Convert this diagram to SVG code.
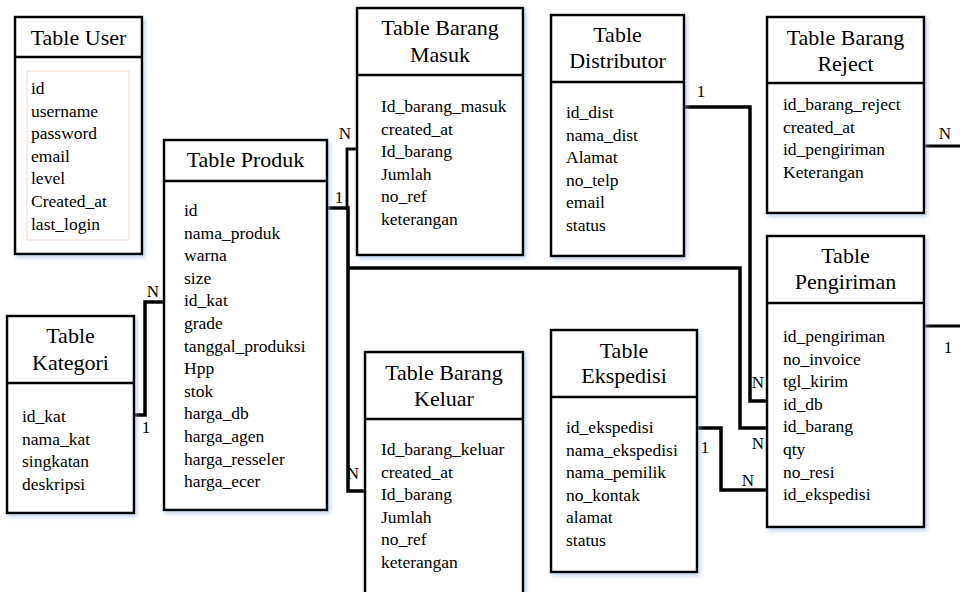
<svg xmlns="http://www.w3.org/2000/svg" width="960" height="592" viewBox="0 0 960 592">
  <style>
    .box { fill: #ffffff; stroke: #000000; stroke-width: 2.5; filter: url(#shade); }
    .div { stroke: #000000; stroke-width: 2.5; }
    .title { font-family: "Liberation Serif", "Times New Roman", serif; font-size: 22px; fill: #000000; text-anchor: middle; }
    .field { font-family: "Liberation Serif", "Times New Roman", serif; font-size: 17.5px; fill: #000000; }
    .card { font-family: "Liberation Serif", "Times New Roman", serif; font-size: 17px; fill: #000000; text-anchor: middle; }
    .link { fill: none; stroke: #000000; stroke-width: 3.5; stroke-linejoin: miter; }
    .thin { stroke-width: 2.8; }
  </style>
  <defs>
    <filter id="shade" x="-10%" y="-10%" width="125%" height="125%">
      <feDropShadow dx="2" dy="2.5" stdDeviation="2" flood-color="#8fb0d8" flood-opacity="0.55"/>
    </filter>
  </defs>
  <rect width="960" height="592" fill="#ffffff"/>

  <!-- relationship lines -->
  <g id="connectors">
    <!-- Kategori 1 : N Produk -->
    <path class="link" d="M134,415 H145 V302 H164"/>
    <!-- Produk 1 : N Barang Masuk -->
    <path class="link thin" d="M347,208 V149 H357"/>
    <!-- Produk 1 : N Barang Keluar -->
    <path class="link" d="M327,208 H348 V491 H365"/>
    <!-- Produk 1 : N Pengiriman (id_barang) -->
    <path class="link" d="M348,268 H740 V428 H767"/>
    <!-- Distributor 1 : N Pengiriman (id_db) -->
    <path class="link" d="M684,107 H750 V401 H767"/>
    <!-- Ekspedisi 1 : N Pengiriman (id_ekspedisi) -->
    <path class="link" d="M697,428 H721 V490 H767"/>
    <!-- Barang Reject N -->
    <path class="link thin" d="M924,146 H962"/>
    <!-- Pengiriman 1 -->
    <path class="link thin" d="M924,326 H962"/>

    <text class="card" x="153" y="297">N</text>
    <text class="card" x="146" y="433">1</text>
    <text class="card" x="345" y="139">N</text>
    <text class="card" x="339" y="203">1</text>
    <text class="card" x="353" y="479">N</text>
    <text class="card" x="701" y="97">1</text>
    <text class="card" x="758" y="388">N</text>
    <text class="card" x="758" y="449">N</text>
    <text class="card" x="705" y="453">1</text>
    <text class="card" x="748" y="486">N</text>
    <text class="card" x="945" y="139">N</text>
    <text class="card" x="948" y="353">1</text>
  </g>

  <g id="table-user">
    <rect class="box" x="15" y="17" width="127" height="237"/>
    <line class="div" x1="15" y1="57" x2="142" y2="57"/>
    <rect x="27" y="71" width="102" height="169" fill="none" stroke="#f6d9c8" stroke-width="1"/>
    <text class="title" x="78.5" y="45">Table User</text>
    <text class="field" x="31" y="94">id</text>
    <text class="field" x="31" y="116.6">username</text>
    <text class="field" x="31" y="139.2">password</text>
    <text class="field" x="31" y="161.8">email</text>
    <text class="field" x="31" y="184.4">level</text>
    <text class="field" x="31" y="207">Created_at</text>
    <text class="field" x="31" y="229.6">last_login</text>
  </g>

  <g id="table-produk">
    <rect class="box" x="164" y="140" width="163" height="370"/>
    <line class="div" x1="164" y1="181" x2="327" y2="181"/>
    <text class="title" x="245.5" y="167">Table Produk</text>
    <text class="field" x="184" y="216">id</text>
    <text class="field" x="184" y="238.6">nama_produk</text>
    <text class="field" x="184" y="261.2">warna</text>
    <text class="field" x="184" y="283.8">size</text>
    <text class="field" x="184" y="306.4">id_kat</text>
    <text class="field" x="184" y="329">grade</text>
    <text class="field" x="184" y="351.6">tanggal_produksi</text>
    <text class="field" x="184" y="374.2">Hpp</text>
    <text class="field" x="184" y="396.8">stok</text>
    <text class="field" x="184" y="419.4">harga_db</text>
    <text class="field" x="184" y="442">harga_agen</text>
    <text class="field" x="184" y="464.6">harga_resseler</text>
    <text class="field" x="184" y="487.2">harga_ecer</text>
  </g>

  <g id="table-kategori">
    <rect class="box" x="7" y="316" width="127" height="197"/>
    <line class="div" x1="7" y1="383" x2="134" y2="383"/>
    <text class="title" x="70.5" y="343">Table</text>
    <text class="title" x="70.5" y="370">Kategori</text>
    <text class="field" x="22" y="422">id_kat</text>
    <text class="field" x="22" y="444.6">nama_kat</text>
    <text class="field" x="22" y="467.2">singkatan</text>
    <text class="field" x="22" y="489.8">deskripsi</text>
  </g>

  <g id="table-barang-masuk">
    <rect class="box" x="357" y="8" width="166" height="247"/>
    <line class="div" x1="357" y1="75" x2="523" y2="75"/>
    <text class="title" x="440" y="35">Table Barang</text>
    <text class="title" x="440" y="62">Masuk</text>
    <text class="field" x="381" y="112">Id_barang_masuk</text>
    <text class="field" x="381" y="134.6">created_at</text>
    <text class="field" x="381" y="157.2">Id_barang</text>
    <text class="field" x="381" y="179.8">Jumlah</text>
    <text class="field" x="381" y="202.4">no_ref</text>
    <text class="field" x="381" y="225">keterangan</text>
  </g>

  <g id="table-distributor">
    <rect class="box" x="551" y="15" width="133" height="241"/>
    <line class="div" x1="551" y1="82" x2="684" y2="82"/>
    <text class="title" x="617.5" y="42">Table</text>
    <text class="title" x="617.5" y="68">Distributor</text>
    <text class="field" x="566" y="118">id_dist</text>
    <text class="field" x="566" y="140.6">nama_dist</text>
    <text class="field" x="566" y="163.2">Alamat</text>
    <text class="field" x="566" y="185.8">no_telp</text>
    <text class="field" x="566" y="208.4">email</text>
    <text class="field" x="566" y="231">status</text>
  </g>

  <g id="table-barang-reject">
    <rect class="box" x="767" y="17" width="157" height="196"/>
    <line class="div" x1="767" y1="83" x2="924" y2="83"/>
    <text class="title" x="845.5" y="45">Table Barang</text>
    <text class="title" x="845.5" y="71">Reject</text>
    <text class="field" x="783" y="110">id_barang_reject</text>
    <text class="field" x="783" y="132.6">created_at</text>
    <text class="field" x="783" y="155.2">id_pengiriman</text>
    <text class="field" x="783" y="177.8">Keterangan</text>
  </g>

  <g id="table-pengiriman">
    <rect class="box" x="767" y="236" width="157" height="291"/>
    <line class="div" x1="767" y1="303" x2="924" y2="303"/>
    <text class="title" x="845.5" y="263">Table</text>
    <text class="title" x="845.5" y="289">Pengiriman</text>
    <text class="field" x="783" y="342">id_pengiriman</text>
    <text class="field" x="783" y="364.6">no_invoice</text>
    <text class="field" x="783" y="387.2">tgl_kirim</text>
    <text class="field" x="783" y="409.8">id_db</text>
    <text class="field" x="783" y="432.4">id_barang</text>
    <text class="field" x="783" y="455">qty</text>
    <text class="field" x="783" y="477.6">no_resi</text>
    <text class="field" x="783" y="500.2">id_ekspedisi</text>
  </g>

  <g id="table-barang-keluar">
    <rect class="box" x="365" y="352" width="158" height="260"/>
    <line class="div" x1="365" y1="419" x2="523" y2="419"/>
    <text class="title" x="444" y="380">Table Barang</text>
    <text class="title" x="444" y="406">Keluar</text>
    <text class="field" x="381" y="455">Id_barang_keluar</text>
    <text class="field" x="381" y="477.6">created_at</text>
    <text class="field" x="381" y="500.2">Id_barang</text>
    <text class="field" x="381" y="522.8">Jumlah</text>
    <text class="field" x="381" y="545.4">no_ref</text>
    <text class="field" x="381" y="568">keterangan</text>
  </g>

  <g id="table-ekspedisi">
    <rect class="box" x="551" y="330" width="146" height="242"/>
    <line class="div" x1="551" y1="397" x2="697" y2="397"/>
    <text class="title" x="624" y="358">Table</text>
    <text class="title" x="624" y="383">Ekspedisi</text>
    <text class="field" x="566" y="433">id_ekspedisi</text>
    <text class="field" x="566" y="455.6">nama_ekspedisi</text>
    <text class="field" x="566" y="478.2">nama_pemilik</text>
    <text class="field" x="566" y="500.8">no_kontak</text>
    <text class="field" x="566" y="523.4">alamat</text>
    <text class="field" x="566" y="546">status</text>
  </g>
</svg>
